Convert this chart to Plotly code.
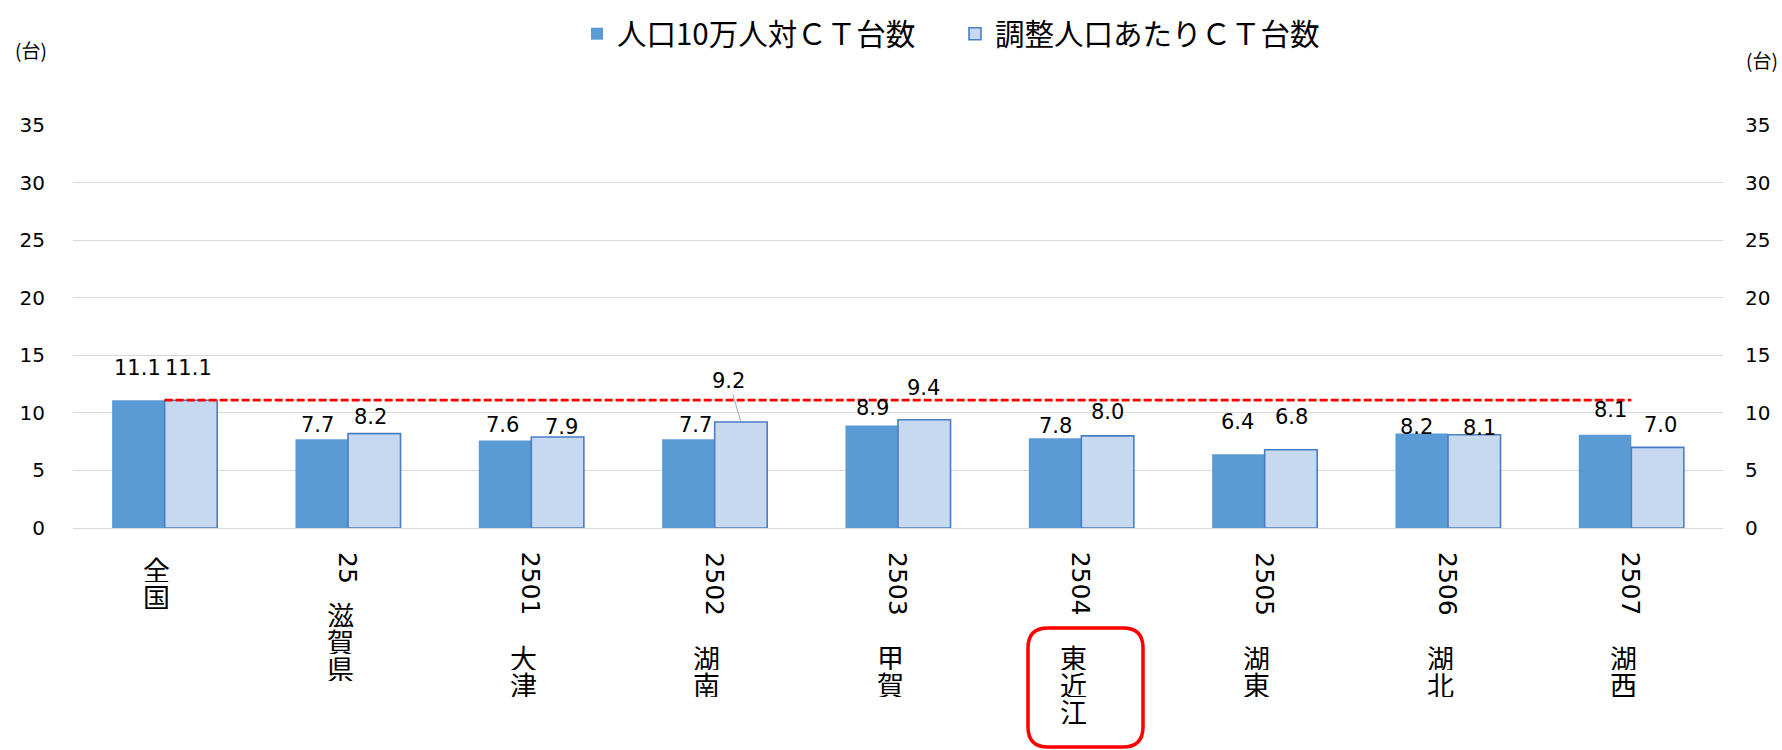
import plotly.graph_objects as go

# ---- data ----
codes = ["", "25", "2501", "2502", "2503", "2504", "2505", "2506", "2507"]
names = ["全国", "滋賀県", "大津", "湖南", "甲賀", "東近江", "湖東", "湖北", "湖西"]
ct_per_100k = [11.1, 7.7, 7.6, 7.7, 8.9, 7.8, 6.4, 8.2, 8.1]
ct_adjusted = [11.1, 8.2, 7.9, 9.2, 9.4, 8.0, 6.8, 8.1, 7.0]
series_names = ["人口10万人対ＣＴ台数", "調整人口あたりＣＴ台数"]
y_ticks = [0, 5, 10, 15, 20, 25, 30, 35]
unit_label = "(台)"
national_value = ct_per_100k[0]

# ---- style ----
W, H = 1782, 750
ML, MR, MT, MB = 73, 59, 125, 222
PW = W - ML - MR
PH = H - MT - MB
DARK = "#5B9BD5"
LIGHT = "#C6D9F0"
LIGHT_EDGE = "#4A7EC4"
BARGAP = 0.427
cat_w = PW / len(names)
half_bar = cat_w * (1 - BARGAP) / 4  # center offset of each bar in group

label_font = dict(family="DejaVu Sans", size=21, color="#000000")
# pixel nudges of data labels (dx, dy above value)
dark_nudge = [(-1, 32), (-4, 14), (-3, 15), (7, 14), (1, 18), (0, 12), (-1, 32), (-5, 7), (5, 25)]
light_nudge = [(-2, 32), (-4, 17), (4, 10), None, (-1, 32), (0, 24), (1, 33), (5, 7), (3, 22)]

fig = go.Figure()
fig.add_trace(go.Bar(x=names, y=ct_per_100k, name=series_names[0],
                     marker=dict(color=DARK, line=dict(width=0))))
fig.add_trace(go.Bar(x=names, y=ct_adjusted, name=series_names[1],
                     marker=dict(color=LIGHT, line=dict(color=LIGHT_EDGE, width=1.6))))
fig.add_trace(go.Scatter(x=names, y=[national_value] * len(names), mode="lines",
                         line=dict(color="#FF0000", width=2.8, dash="8px,3px"),
                         showlegend=False, hoverinfo="skip", yaxis="y2"))

ann = []
# data labels
for i, n in enumerate(names):
    dx, dy = dark_nudge[i]
    ann.append(dict(x=n, y=ct_per_100k[i], xref="x", yref="y", text=f"{ct_per_100k[i]:.1f}",
                    showarrow=False, xshift=-half_bar + dx, yshift=dy,
                    xanchor="center", yanchor="middle", font=label_font))
    if light_nudge[i] is None:
        ann.append(dict(x=n, y=ct_adjusted[i], xref="x", yref="y", text=f"{ct_adjusted[i]:.1f}",
                        showarrow=True, arrowhead=0, arrowwidth=1, arrowcolor="#A6A6A6",
                        ax=-12, ay=-41, xshift=half_bar, font=label_font))
    else:
        dx, dy = light_nudge[i]
        ann.append(dict(x=n, y=ct_adjusted[i], xref="x", yref="y", text=f"{ct_adjusted[i]:.1f}",
                        showarrow=False, xshift=half_bar + dx, yshift=dy,
                        xanchor="center", yanchor="middle", font=label_font))

# category labels: code rotated, names stacked vertically
code_font = dict(family="DejaVu Sans", size=25, color="#000000")
kanji_font = dict(family="Noto Sans CJK JP", size=27, color="#000000")
name_start = {0: 555, 2: 600, 4: 643}
for i, n in enumerate(names):
    c = codes[i]
    if c:
        ann.append(dict(x=n, y=0, xref="x", yref="paper", text=c, textangle=90,
                        showarrow=False, xanchor="center", yanchor="top",
                        yshift=-(550 - (H - MB)), font=code_font))
    start = name_start[len(c)]
    for k, ch in enumerate(names[i]):
        cy = start + 13.5 + 27 * k
        ann.append(dict(x=n, y=0, xref="x", yref="paper", text=ch, showarrow=False,
                        xanchor="center", yanchor="middle", xshift=-8,
                        height=26, valign="middle", borderpad=0,
                        yshift=-(cy - (H - MB)), font=kanji_font))

# unit labels
ann.append(dict(x=(31 - ML) / PW, y=(H - MB - 49) / PH, xref="paper", yref="paper",
                text=unit_label, showarrow=False, xanchor="center", yanchor="middle",
                font=dict(family="Noto Sans CJK JP", size=19, color="#000000")))
ann.append(dict(x=(1762 - ML) / PW, y=(H - MB - 59) / PH, xref="paper", yref="paper",
                text=unit_label, showarrow=False, xanchor="center", yanchor="middle",
                font=dict(family="Noto Sans CJK JP", size=19, color="#000000")))

# rounded highlight box around 東近江
def px(x):
    return (x - ML) / PW

def py(y):
    return (H - MB - y) / PH

x0, x1, y0, y1, r = 1028, 1143, 628, 747, 20
path = (f"M{px(x0 + r)},{py(y0)} L{px(x1 - r)},{py(y0)} Q{px(x1)},{py(y0)} {px(x1)},{py(y0 + r)} "
        f"L{px(x1)},{py(y1 - r)} Q{px(x1)},{py(y1)} {px(x1 - r)},{py(y1)} "
        f"L{px(x0 + r)},{py(y1)} Q{px(x0)},{py(y1)} {px(x0)},{py(y1 - r)} "
        f"L{px(x0)},{py(y0 + r)} Q{px(x0)},{py(y0)} {px(x0 + r)},{py(y0)} Z")
shapes = [dict(type="path", xref="paper", yref="paper", path=path,
               line=dict(color="#FF0000", width=3.5))]

tick_font = dict(family="DejaVu Sans", size=20, color="#000000")
fig.update_layout(
    width=W, height=H,
    margin=dict(l=ML, r=MR, t=MT, b=MB, pad=0),
    paper_bgcolor="white", plot_bgcolor="white",
    barmode="group", bargap=BARGAP, bargroupgap=0,
    showlegend=True,
    legend=dict(orientation="h", x=(577 - ML) / PW, xanchor="left",
                y=1 - 8 / H, yref="container", yanchor="top",
                font=dict(family="Noto Sans CJK JP", size=29.5, color="#000000"),
                entrywidth=333, entrywidthmode="pixels",
                bgcolor="rgba(0,0,0,0)", traceorder="normal"),
    xaxis=dict(showticklabels=False, showgrid=False, ticks="", zeroline=False,
               showline=True, linecolor="#D9D9D9", linewidth=1.3),
    yaxis=dict(range=[0, 35], tickvals=y_ticks, showgrid=True, gridcolor="#D9D9D9",
               gridwidth=1.3, zeroline=False, ticks="", tickfont=tick_font,
               ticklabelstandoff=27, showline=False),
    yaxis2=dict(range=[0, 35], tickvals=y_ticks, overlaying="y", side="right",
                showgrid=False, zeroline=False, ticks="", tickfont=tick_font,
                ticklabelstandoff=21, showline=False),
    annotations=ann,
    shapes=shapes,
)

fig.write_html("out.html")
